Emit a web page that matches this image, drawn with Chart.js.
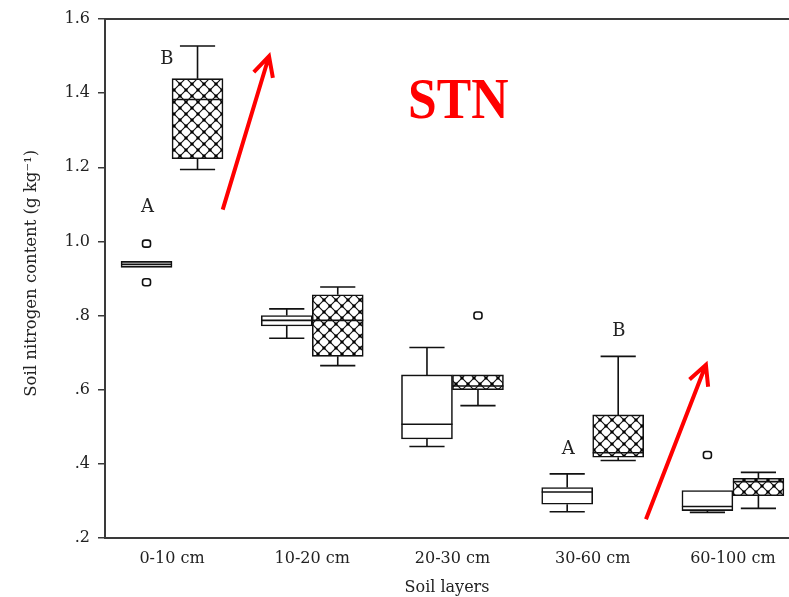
<!DOCTYPE html>
<html>
<head>
<meta charset="utf-8">
<script src="https://cdn.jsdelivr.net/npm/chart.js@4.4.1/dist/chart.umd.min.js"></script>
<style>
  html, body { margin: 0; padding: 0; background: #fff; }
  #wrap { width: 789px; height: 597px; }
</style>
</head>
<body>
<div id="wrap"><canvas id="stnChart" width="789" height="597"></canvas></div>
<script>
// Soil layers (x categories)
const layers = ['0-10 cm', '10-20 cm', '20-30 cm', '30-60 cm', '60-100 cm'];

// y axis ticks
const yTickValues = [0.2, 0.4, 0.6, 0.8, 1.0, 1.2, 1.4, 1.6];
const yTickLabels = ['.2', '.4', '.6', '.8', '1.0', '1.2', '1.4', '1.6'];

// plain (white) boxes
const plainMin = [0.930, 0.739, 0.447, 0.271, 0.269];
const plainQ1  = [0.930, 0.772, 0.467, 0.291, 0.274];
const plainMed = [0.938, 0.787, 0.507, 0.324, 0.285];
const plainQ3  = [0.946, 0.800, 0.640, 0.336, 0.328];
const plainMax = [0.946, 0.818, 0.714, 0.373, 0.328];
const plainOut = [[0.994, 0.890], [], [], [], [0.424]];

// cross-hatched boxes
const hatchMin = [1.194, 0.665, 0.557, 0.409, 0.280];
const hatchQ1  = [1.223, 0.690, 0.600, 0.418, 0.314];
const hatchMed = [1.383, 0.787, 0.610, 0.430, 0.352];
const hatchQ3  = [1.439, 0.856, 0.640, 0.532, 0.361];
const hatchMax = [1.527, 0.877, 0.640, 0.690, 0.377];
const hatchOut = [[], [], [0.800], [], []];

// significance letters (x in category units, y in g/kg)
const sigText = ['A', 'B', 'A', 'B'];
const sigX = [-0.175, -0.036, 2.826, 3.187];
const sigY = [1.091, 1.491, 0.438, 0.757];

// red arrows: tail -> tip
const arrowFromX = [0.3615, 3.380];
const arrowFromY = [1.0857, 0.2506];
const arrowToX = [0.6916, 3.8075];
const arrowToY = [1.4996, 0.6672];

const AXIS = '#3a3a3a';
const INK = '#111';

function crossHatch() {
    const c = document.createElement('canvas');
    c.width = 12; c.height = 12;
    const g = c.getContext('2d');
    g.fillStyle = '#fff';
    g.fillRect(0, 0, 12, 12);
    g.strokeStyle = '#111';
    g.lineWidth = 1.2;
    g.beginPath();
    g.moveTo(-1, -1); g.lineTo(13, 13);
    g.moveTo(13, -1); g.lineTo(-1, 13);
    g.stroke();
    g.fillStyle = '#000';
    g.fillRect(4.5, 4.5, 3, 3);
    [[-1.5, -1.5], [10.5, -1.5], [-1.5, 10.5], [10.5, 10.5]].forEach(p => g.fillRect(p[0], p[1], 3, 3));
    return g.createPattern(c, 'repeat');
}

function outlierMark(ctx, x, y) {
    const w = 8, h = 7, r = 2.5;
    const l = x - w / 2, t = y - h / 2;
    ctx.beginPath();
    ctx.moveTo(l + r, t);
    ctx.arcTo(l + w, t, l + w, t + h, r);
    ctx.arcTo(l + w, t + h, l, t + h, r);
    ctx.arcTo(l, t + h, l, t, r);
    ctx.arcTo(l, t, l + w, t, r);
    ctx.closePath();
    ctx.fillStyle = '#fff';
    ctx.fill();
    ctx.stroke();
}

const boxStats = [
    { min: plainMin, med: plainMed, q1: plainQ1, q3: plainQ3, max: plainMax, out: plainOut },
    { min: hatchMin, med: hatchMed, q1: hatchQ1, q3: hatchQ3, max: hatchMax, out: hatchOut }
];

// whiskers, medians, outliers, letters, arrows and the STN tag
const boxExtras = {
    id: 'boxExtras',
    afterDatasetsDraw(chart) {
        const ctx = chart.ctx;
        const xs = chart.scales.x, ys = chart.scales.y;
        const area = chart.chartArea;
        ctx.save();

        // top frame line
        ctx.strokeStyle = AXIS;
        ctx.lineWidth = 2;
        ctx.beginPath();
        ctx.moveTo(area.left, area.top);
        ctx.lineTo(area.right, area.top);
        ctx.stroke();

        ctx.strokeStyle = INK;
        ctx.lineWidth = 1.6;
        boxStats.forEach((st, di) => {
            const meta = chart.getDatasetMeta(di);
            meta.data.forEach((bar, i) => {
                const x = bar.x, w = bar.width;
                const cap = w * 0.69;
                const yMin = ys.getPixelForValue(st.min[i]);
                const yMax = ys.getPixelForValue(st.max[i]);
                const yQ1 = ys.getPixelForValue(st.q1[i]);
                const yQ3 = ys.getPixelForValue(st.q3[i]);
                const yMed = ys.getPixelForValue(st.med[i]);
                ctx.beginPath();
                if (st.max[i] > st.q3[i]) {
                    ctx.moveTo(x, yQ3); ctx.lineTo(x, yMax);
                    ctx.moveTo(x - cap / 2, yMax); ctx.lineTo(x + cap / 2, yMax);
                }
                if (st.min[i] < st.q1[i]) {
                    ctx.moveTo(x, yQ1); ctx.lineTo(x, yMin);
                    ctx.moveTo(x - cap / 2, yMin); ctx.lineTo(x + cap / 2, yMin);
                }
                ctx.moveTo(x - w / 2, yMed); ctx.lineTo(x + w / 2, yMed);
                ctx.stroke();
                st.out[i].forEach(v => outlierMark(ctx, x, ys.getPixelForValue(v)));
            });
        });

        // letters
        ctx.fillStyle = '#222';
        ctx.font = '18px "DejaVu Serif"';
        ctx.textAlign = 'center';
        ctx.textBaseline = 'middle';
        sigText.forEach((t, i) => {
            ctx.fillText(t, xs.getPixelForValue(sigX[i]), ys.getPixelForValue(sigY[i]));
        });

        // arrows
        ctx.strokeStyle = '#ff0000';
        ctx.lineWidth = 4;
        ctx.lineCap = 'butt';
        arrowFromX.forEach((_, i) => {
            const x0 = xs.getPixelForValue(arrowFromX[i]), y0 = ys.getPixelForValue(arrowFromY[i]);
            const x1 = xs.getPixelForValue(arrowToX[i]), y1 = ys.getPixelForValue(arrowToY[i]);
            const a = Math.atan2(y1 - y0, x1 - x0);
            const len = 22, spread = 0.47;
            ctx.beginPath();
            ctx.moveTo(x0, y0); ctx.lineTo(x1, y1);
            ctx.moveTo(x1 - len * Math.cos(a - spread), y1 - len * Math.sin(a - spread));
            ctx.lineTo(x1, y1);
            ctx.lineTo(x1 - len * Math.cos(a + spread), y1 - len * Math.sin(a + spread));
            ctx.stroke();
        });

        // STN tag
        ctx.fillStyle = '#ff0000';
        ctx.font = 'bold 58px "Liberation Serif"';
        ctx.textAlign = 'left';
        ctx.textBaseline = 'alphabetic';
        ctx.translate(xs.getPixelForValue(1.683), ys.getPixelForValue(1.334));
        ctx.scale(0.89, 1);
        ctx.fillText('STN', 0, 0);
        ctx.restore();
    }
};

Chart.defaults.font.family = '"DejaVu Serif"';
Chart.defaults.font.size = 16;
Chart.defaults.color = '#222';

const hatch = crossHatch();

new Chart(document.getElementById('stnChart'), {
    type: 'bar',
    data: {
        datasets: [
            {
                label: 'plain',
                data: layers.map((_, i) => ({ x: i, y: [plainQ1[i], plainQ3[i]] })),
                backgroundColor: '#fff',
                borderColor: INK,
                borderWidth: 1.6,
                borderSkipped: false,
                barThickness: 51
            },
            {
                label: 'hatched',
                data: layers.map((_, i) => ({ x: i, y: [hatchQ1[i], hatchQ3[i]] })),
                backgroundColor: hatch,
                borderColor: INK,
                borderWidth: 1.6,
                borderSkipped: false,
                barThickness: 51
            }
        ]
    },
    options: {
        responsive: false,
        animation: false,
        layout: { padding: { top: 19, right: 0, bottom: 0, left: 0 } },
        plugins: { legend: { display: false }, tooltip: { enabled: false } },
        scales: {
            x: {
                type: 'linear',
                min: -0.478,
                max: 4.4,
                offset: false,
                afterBuildTicks: s => { s.ticks = layers.map((_, i) => ({ value: i })); },
                afterFit: s => { s.height = 59; },
                ticks: { callback: (v, i) => layers[i], padding: 3, maxRotation: 0, autoSkip: false },
                grid: { display: false },
                border: { display: true, color: AXIS, width: 2 },
                title: { display: true, text: 'Soil layers', padding: 0 }
            },
            y: {
                min: 0.2,
                max: 1.6,
                afterBuildTicks: s => { s.ticks = yTickValues.map(v => ({ value: v })); },
                afterFit: s => { s.width = 105; },
                ticks: { callback: (v, i) => yTickLabels[i], padding: 8 },
                grid: { drawOnChartArea: false, drawTicks: true, tickLength: 7, color: AXIS, lineWidth: 1.5 },
                border: { display: true, color: AXIS, width: 2 },
                title: {
                    display: true,
                    text: '  Soil nitrogen content (g kg⁻¹)',
                    font: { size: 16.5 },
                    padding: { top: 22, bottom: 0 }
                }
            }
        }
    },
    plugins: [boxExtras]
});
</script>
</body>
</html>
